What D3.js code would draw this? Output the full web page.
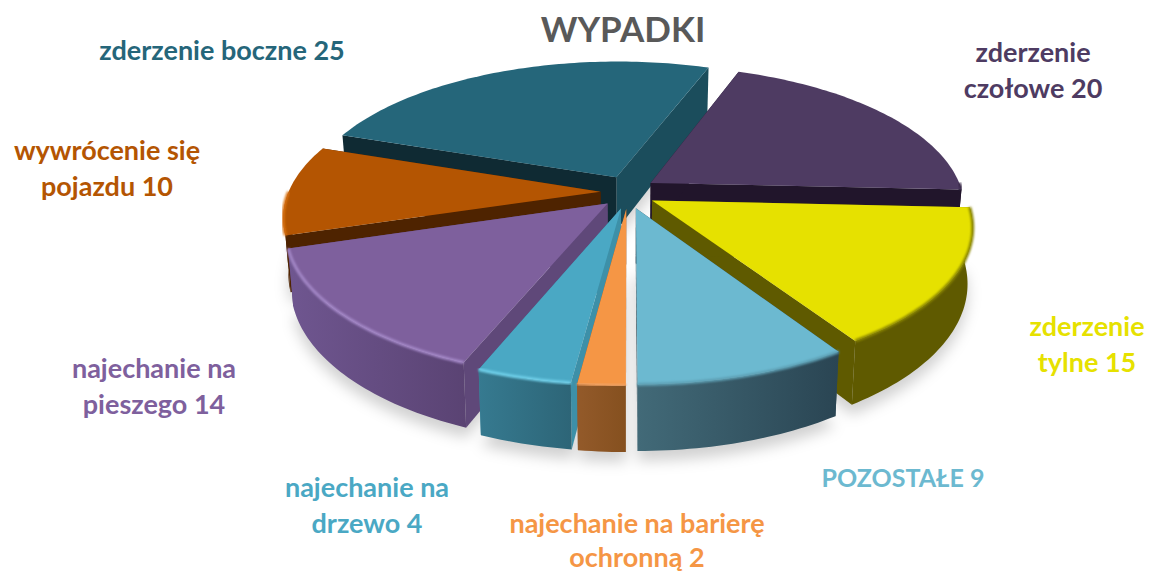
<!DOCTYPE html>
<html>
<head>
<meta charset="utf-8">
<script src="https://cdn.jsdelivr.net/npm/d3@7"></script>
<style>
	body { margin: 0; background: white; }
	text { font-family: Lato, "Open Sans", sans-serif; font-weight: bold; text-anchor: middle; }
</style>
</head>
<body>
<svg class="chart"></svg>
<script>
// values, clockwise starting from the top right slice
var categories = ["zderzenie czołowe", "zderzenie tylne", "POZOSTAŁE", "najechanie na barierę ochronną", "najechanie na drzewo", "najechanie na pieszego", "wywrócenie się pojazdu", "zderzenie boczne"];
var values = [20, 15, 9, 2, 4, 14, 10, 25];
var title = "WYPADKI";

// label text per line, same order as the categories
var labelLines = [
	["zderzenie", "czołowe 20"],
	["zderzenie", "tylne 15"],
	["POZOSTAŁE 9"],
	["najechanie na barierę", "ochronną 2"],
	["najechanie na", "drzewo 4"],
	["najechanie na", "pieszego 14"],
	["wywrócenie się", "pojazdu 10"],
	["zderzenie boczne 25"]
];

// colors: top face, cut faces, outer wall (light and dark end), rim bevel
var topColors = ["#4e3b62", "#e6e100", "#6cb9d0", "#f59645", "#4aa8c4", "#7e609d", "#b45502", "#25667a"];
var cutStartColors = ["#21152b", "#5f5a00", "#2d4a57", "#8f5528", "#3d90a8", "#5f4879", "#4e2300", "#0f2a33"];
var cutEndColors = ["#21152b", "#5f5a00", "#2d4a57", "#8f5528", "#3d90a8", "#5f4879", "#4e2300", "#1b4d5c"];
var wallLight = ["#21152b", "#5f5a00", "#426a78", "#935a2a", "#367a90", "#6f5690", "#4e2300", "#1b4d5c"];
var wallDark = ["#21152b", "#5f5a00", "#2a4553", "#85501f", "#2d6577", "#5a4373", "#4e2300", "#1b4d5c"];
var rimColors = ["#3a2b4a", "#8a8600", "#5d9fb3", "#f0a060", "#70d0ea", "#a488c8", "#d87010", "#2b7185"];

// label anchors: x center and baseline of each line, and font size
var labelX = [1033, 1087, 903, 637, 367, 154, 107, 222];
var labelY = [[62, 98], [336, 372], [487], [533, 567], [497, 533], [378, 414], [160, 196], [60]];
var labelSize = [27, 27, 25, 27, 27, 27, 27, 27];

var width = 1152,
	height = 574;

var svg = d3.select(".chart")
	.attr("width", width)
	.attr("height", height);

var defs = svg.append("defs");

defs.append("filter")
	.attr("id", "shadowBlur")
	.attr("x", "-20%").attr("y", "-20%").attr("width", "140%").attr("height", "140%")
	.append("feGaussianBlur")
	.attr("stdDeviation", 7);

defs.append("filter")
	.attr("id", "rimBlur")
	.attr("x", "-10%").attr("y", "-10%").attr("width", "120%").attr("height", "120%")
	.append("feGaussianBlur")
	.attr("stdDeviation", 1);

// scales of the flat disc, before the perspective is put on it
var xScale = d3.scaleLinear().domain([-1, 1]).range([628 - 312, 628 + 312]);
var yScale = d3.scaleLinear().domain([-1, 1]).range([192 - 140, 192 + 140]);
var zScale = d3.scaleLinear().domain([0, 1]).range([0, 54]);

var tilt = 0.17,
	explode = 0.088,
	explodeY = 1.35;

// u to the right, v to the front, z 0 on the top face and 1 on the floor
function project(u, v, z) {
	var p = 1 / (1 - tilt * v);
	return [
		xScale(0) + (xScale(u) - xScale(0)) * p * (1 - 0.015 * z),
		yScale(0) + (yScale(v) - yScale(0)) * p + zScale(z) * p
	];
}

var pie = d3.pie()
	.sort(null)
	.startAngle(20 * Math.PI / 180)
	.endAngle(380 * Math.PI / 180);

var slices = pie(values).map(function(d, i) {
	var mid = (d.startAngle + d.endAngle) / 2;
	return {
		i: i,
		a0: d.startAngle,
		a1: d.endAngle,
		// only this part of the edge faces the viewer
		f0: Math.max(d.startAngle, Math.PI / 2),
		f1: Math.min(d.endAngle, 3 * Math.PI / 2),
		depth: -Math.cos(mid),
		ou: explode * Math.sin(mid),
		ov: -explode * explodeY * Math.cos(mid)
	};
});

var line = d3.line();

function rimPoint(s, a, z) {
	return project(s.ou + Math.sin(a), s.ov - Math.cos(a), z);
}

function apex(s, z) {
	return project(s.ou, s.ov, z);
}

// points along the outer edge of a slice between two angles
function rim(s, a0, a1, z) {
	var n = Math.max(1, Math.ceil((a1 - a0) / 0.02));
	return d3.range(n + 1).map(function(k) {
		return rimPoint(s, a0 + (a1 - a0) * k / n, z);
	});
}

function wholeRim(s, z) {
	return rim(s, s.a0, s.a1, z);
}

// wall gradients
slices.forEach(function(s) {
	var g = defs.append("linearGradient")
		.attr("id", "wall" + s.i);
	g.append("stop").attr("offset", "0%").attr("stop-color", wallLight[s.i]);
	g.append("stop").attr("offset", "100%").attr("stop-color", wallDark[s.i]);
});

// soft shadow on the floor
var shadow = svg.append("g")
	.attr("filter", "url(#shadowBlur)")
	.attr("transform", "translate(0,10)");

shadow.selectAll("path")
	.data(slices)
	.enter().append("path")
	.attr("d", function(s) { return line([apex(s, 1)].concat(wholeRim(s, 1))) + "Z"; })
	.attr("fill", "#000")
	.attr("fill-opacity", 0.18);

// back slices first so the front ones cover them
var slice = svg.selectAll(".slice")
	.data(slices.slice().sort(function(a, b) { return a.depth - b.depth; }))
	.enter().append("g")
	.attr("class", "slice");

// the two cut faces
slice.append("path")
	.attr("d", function(s) {
		return line([apex(s, 0), rimPoint(s, s.a1, 0), rimPoint(s, s.a1, 1), apex(s, 1)]) + "Z";
	})
	.attr("fill", function(s) { return cutEndColors[s.i]; });

slice.append("path")
	.attr("d", function(s) {
		return line([apex(s, 0), rimPoint(s, s.a0, 0), rimPoint(s, s.a0, 1), apex(s, 1)]) + "Z";
	})
	.attr("fill", function(s) { return cutStartColors[s.i]; });

var front = slice.filter(function(s) { return s.f1 > s.f0; });

// outer wall, front part only
front.append("path")
	.attr("d", function(s) {
		return line(rim(s, s.f0, s.f1, 0).concat(rim(s, s.f0, s.f1, 1).reverse())) + "Z";
	})
	.attr("fill", function(s) { return "url(#wall" + s.i + ")"; });

// top face
slice.append("path")
	.attr("d", function(s) { return line([apex(s, 0)].concat(wholeRim(s, 0))) + "Z"; })
	.attr("fill", function(s) { return topColors[s.i]; });

// bevel along the front edge of the top face
front.append("path")
	.attr("d", function(s) { return line(rim(s, s.f0, s.f1, 0)); })
	.attr("fill", "none")
	.attr("stroke", function(s) { return rimColors[s.i]; })
	.attr("stroke-width", 3)
	.attr("filter", "url(#rimBlur)");

// title
svg.append("text")
	.attr("x", 623)
	.attr("y", 42)
	.attr("fill", "#595959")
	.style("font-size", "35px")
	.text(title);

// labels
var label = svg.selectAll(".label")
	.data(labelLines)
	.enter().append("text")
	.attr("class", "label")
	.attr("fill", function(d, i) { return topColors[i]; })
	.style("font-size", function(d, i) { return labelSize[i] + "px"; });

label.selectAll("tspan")
	.data(function(d, i) {
		return d.map(function(t, k) { return {t: t, x: labelX[i], y: labelY[i][k]}; });
	})
	.enter().append("tspan")
	.attr("x", function(d) { return d.x; })
	.attr("y", function(d) { return d.y; })
	.text(function(d) { return d.t; });
</script>
</body>
</html>
